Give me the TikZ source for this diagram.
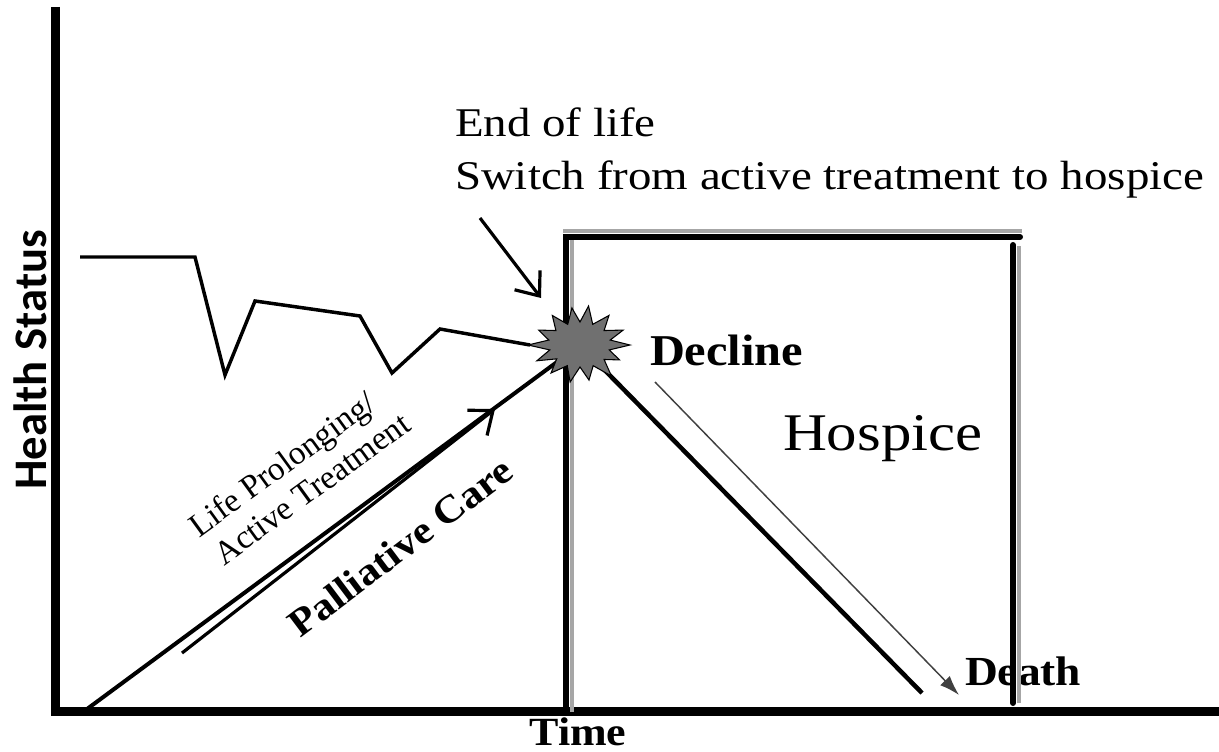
\documentclass[tikz,border=0pt]{standalone}
\usepackage{fontspec}
\usetikzlibrary{arrows.meta}
\newfontfamily\serifreg[FakeStretch=1.15]{Liberation Serif}
\newfontfamily\serifsm{Liberation Serif}
\newfontfamily\serifbd[FakeStretch=1.1]{Liberation Serif}
\newfontfamily\hsfont{Carlito}
\begin{document}
\begin{tikzpicture}[x=0.75pt,y=-0.75pt,
  axis/.style={line width=6.75pt,line join=miter},
  trend/.style={line width=2.6pt,line join=miter},
  thick line/.style={line width=3pt},
  boxline/.style={line width=4.5pt,line cap=round},
  boxshadow/.style={line width=3pt,draw=gray!70},
  barb/.style={line width=2.4pt,-{Straight Barb[length=15pt,width=24pt,line width=2.4pt]}},
  thinarrow/.style={line width=1.1pt,draw=black!75,-{Latex[length=15pt,width=10pt]}},
  burststyle/.style={fill=black!56,draw=black,line width=0.8pt},
  txt/.style={inner sep=0pt,outer sep=0pt},
  regtxt/.style={txt,font=\serifreg\fontsize{30.6}{40}\selectfont},
  smtxt/.style={txt,rotate=36,anchor=base west,font=\serifsm\fontsize{25}{25}\selectfont},
]
\useasboundingbox (0,0) rectangle (1219,752);
% axes
\coordinate (ytop) at (55,7);
\coordinate (orig) at (55,711);
\coordinate (xend) at (1219,711);
\draw[axis] (ytop) -- (orig) -- (xend);
% labels
\node[txt,anchor=base,font=\serifbd\bfseries\fontsize{30}{36}\selectfont] (time) at (578,745) {Time};
\node[txt,rotate=90,font=\hsfont\bfseries\fontsize{35}{40}\selectfont] (health) at (30,360) {Health Status};
\node[regtxt,anchor=base west] (eol) at (455,137) {End of life};
\node[regtxt,anchor=base west] (switch) at (455,190) {Switch from active treatment to hospice};
\node[txt,anchor=base west,font=\serifbd\bfseries\fontsize{33}{40}\selectfont] (decline) at (650,365) {Decline};
\node[txt,anchor=base west,font=\serifreg\fontsize{39.7}{46}\selectfont] (hospice) at (783,450) {Hospice};
\node[txt,anchor=base west,font=\serifbd\bfseries\fontsize{31}{36}\selectfont] (death) at (965,685) {Death};
\node[smtxt] (lp1) at (199,538) {Life Prolonging/};
\node[smtxt] (lp2) at (224,566) {Active Treatment};
\node[txt,rotate=37,font=\serifbd\bfseries\fontsize{29}{34}\selectfont] (pc) at (400,547) {Palliative Care};
% hospice box
\draw[boxshadow] (572,712) -- (572,240);
\draw[boxshadow] (563,231) -- (1022,231);
\draw[boxshadow] (1019,246) -- (1019,703);
\draw[boxline] (566,712) -- (566,237) -- (1020,237);
\draw[boxline] (1013,245) -- (1013,703);
% health trajectory
\coordinate (jstart) at (80,257);
\coordinate (burst) at (580,345);
\draw[trend] (jstart) -- (195,257) -- (225,375) -- (255,301) -- (360,316) -- (392,373) -- (440,329) -- (530,345);
\coordinate (lstart) at (83,712);
\draw[thick line] (lstart) -- (burst);
\coordinate (dend) at (922,693);
\draw[line width=3.4pt] (burst) -- (dend);
% arrows
\coordinate (pa1) at (182,653);
\coordinate (pa2) at (495,409);
\draw[barb] (pa1) -- (pa2);
\coordinate (ea1) at (480,218);
\coordinate (ea2) at (541,298);
\draw[barb] (ea1) -- (ea2);
\coordinate (ta1) at (655,382);
\coordinate (ta2) at (959,695);
\draw[thinarrow] (ta1) -- (ta2);
% burst
\begin{scope}[shift={(burst)}]
\filldraw[burststyle] (0:50 and 38) -- (13:30 and 22) -- (26:44 and 34) -- (39:31 and 23) -- (51:50 and 40)
 -- (64:30 and 23) -- (77:40 and 36) -- (90:28 and 22) -- (103:44 and 38) -- (116:29 and 23) -- (129:46 and 36)
 -- (141:30 and 22) -- (154:48 and 36) -- (167:31 and 22) -- (180:52 and 36) -- (193:32 and 22) -- (206:46 and 34)
 -- (219:31 and 23) -- (231:44 and 38) -- (244:28 and 23) -- (257:36 and 38) -- (270:27 and 23) -- (283:38 and 40)
 -- (296:29 and 23) -- (309:46 and 38) -- (321:31 and 23) -- (334:48 and 34) -- (347:31 and 22) -- cycle;
\end{scope}
\end{tikzpicture}
\end{document}
